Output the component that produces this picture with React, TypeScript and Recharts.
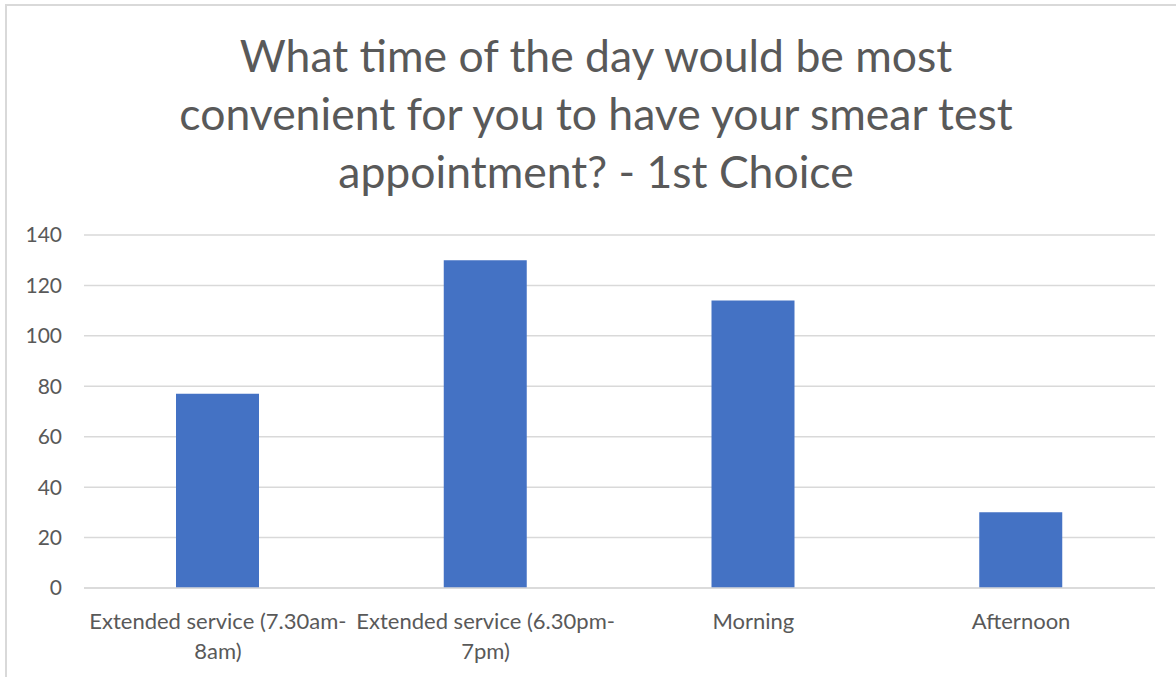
import React from "react";
import { BarChart, Bar, XAxis, YAxis, CartesianGrid } from "recharts";

const categories = [
  "Extended service (7.30am-8am)",
  "Extended service (6.30pm-7pm)",
  "Morning",
  "Afternoon",
];
const counts = [77, 130, 114, 30];
const yTicks = [0, 20, 40, 60, 80, 100, 120, 140];
const titleLines = [
  "What time of the day would be most",
  "convenient for you to have your smear test",
  "appointment? - 1st Choice",
];

const data = categories.map((c, i) => ({ name: c, value: counts[i] }));

const FONT = "Lato, 'Open Sans', sans-serif";
const TEXT = "#595959";

function splitLabel(s: string): string[] {
  if (s.length <= 20) return [s];
  const idx = s.lastIndexOf("-");
  if (idx > 0) return [s.slice(0, idx + 1), s.slice(idx + 1)];
  return [s];
}

const XTick = (props: any) => {
  const { x, y, payload } = props;
  const lines = splitLabel(String(payload.value));
  return (
    <text
      x={x}
      y={y}
      textAnchor="middle"
      fill={TEXT}
      fontSize={22}
      fontFamily={FONT}
    >
      {lines.map((l, i) => (
        <tspan key={i} x={x} dy={i === 0 ? 25 : 30}>
          {l}
        </tspan>
      ))}
    </text>
  );
};

export default function App() {
  return (
    <div
      style={{
        position: "fixed",
        left: 0,
        top: 0,
        width: 1176,
        height: 677,
        overflow: "hidden",
        background: "#fff",
      }}
    >
      <div
        style={{
          position: "absolute",
          left: 5,
          top: 4,
          width: 1180,
          height: 700,
          border: "2px solid #d9d9d9",
          boxSizing: "border-box",
        }}
      />
      <div
        style={{
          position: "absolute",
          left: 6,
          top: 26,
          width: 1180,
          textAlign: "center",
          fontFamily: FONT,
          fontSize: 44.5,
          lineHeight: "58px",
          color: TEXT,
        }}
      >
        {titleLines.map((l, i) => (
          <div key={i}>{l}</div>
        ))}
      </div>
      <div style={{ position: "absolute", left: 0, top: 0 }}>
        <BarChart
          width={1176}
          height={677}
          data={data}
          margin={{ top: 235, right: 21, bottom: 29, left: 24 }}
          barCategoryGap="0%"
        >
          <CartesianGrid
            vertical={false}
            stroke="#d9d9d9"
            strokeWidth={1.5}
          />
          <XAxis
            dataKey="name"
            axisLine={{ stroke: "#d9d9d9", strokeWidth: 1.5 }}
            tickLine={false}
            tick={<XTick />}
            interval={0}
            height={60}
            tickMargin={10}
          />
          <YAxis
            domain={[0, 140]}
            ticks={yTicks}
            width={60}
            axisLine={false}
            tickLine={false}
            tickSize={0}
            tickMargin={22}
            tick={{ fill: TEXT, fontSize: 21, fontFamily: FONT }}
          />
          <Bar
            dataKey="value"
            fill="#4472c4"
            barSize={83}
            isAnimationActive={false}
          />
        </BarChart>
      </div>
    </div>
  );
}
